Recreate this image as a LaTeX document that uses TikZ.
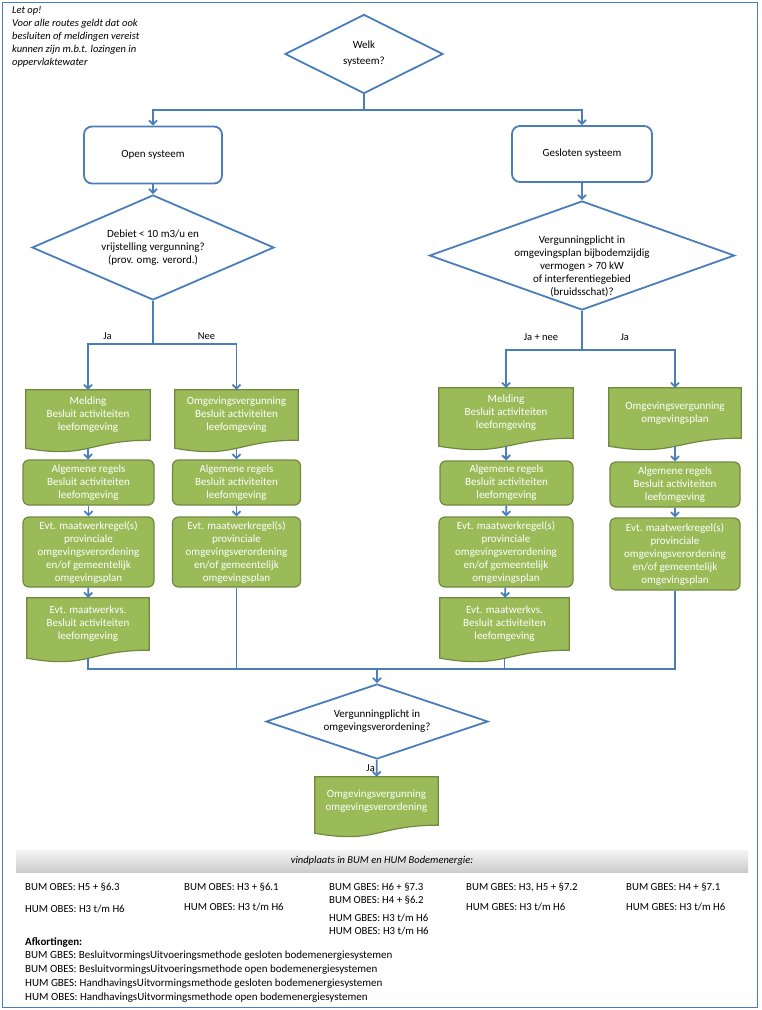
\documentclass[tikz,border=0pt]{standalone}
\usepackage{fontspec}
\setmainfont{Carlito}
\usetikzlibrary{shapes.geometric,arrows.meta,backgrounds}
\definecolor{flowblue}{HTML}{4A7EBB}
\definecolor{flowgreen}{HTML}{9BBB59}
\definecolor{flowgreenline}{HTML}{71893F}
\newcommand{\docshape}[1]{%
    \begin{pgfonlayer}{background}
        \filldraw [fill=flowgreen, draw=flowgreenline, line width=1.2pt]
            (#1.north west) -- (#1.north east) -- (#1.south east)
            .. controls (#1.south) and ([yshift=-19pt]#1.south) .. ([yshift=-8pt]#1.south west) -- cycle;
    \end{pgfonlayer}
    \coordinate (#1-b) at ([yshift=-8pt]#1.south);}

\begin{document}
\begin{tikzpicture}[x=1pt, y=-1pt,
    every node/.style={font=\fontsize{11}{13}\selectfont},
    line/.style={draw=flowblue, line width=1.8pt},
    arr/.style={line, -{Straight Barb[length=4pt,width=8pt]}},
    decision/.style={diamond, aspect=2.8, draw=flowblue, line width=1.8pt, fill=white, align=center, inner sep=-24pt},
    sysbox/.style={rectangle, rounded corners=8pt, draw=flowblue, line width=1.8pt, fill=white},
    greenbox/.style={rectangle, rounded corners=6pt, draw=flowgreenline, fill=flowgreen, line width=1.2pt, text=white, align=center, inner sep=2pt},
    docbox/.style={rectangle, text=white, align=center, inner sep=0pt},
    lbl/.style={font=\fontsize{10.5}{12}\selectfont},
    tbl/.style={anchor=west, inner sep=0pt, font=\fontsize{10.8}{12}\selectfont},
    note/.style={anchor=north west, align=left, inner sep=0pt, font=\itshape\fontsize{10.5}{13}\selectfont}]
    \useasboundingbox (0,0) rectangle (761,1010);
    \begin{pgfonlayer}{background}
        \fill [white] (0,0) rectangle (761,1010);
    \end{pgfonlayer}
    \draw [flowblue, line width=1pt] (2.5,2.5) rectangle (757.5,1007);
    \node [note] (letop) at (12,6) {Let op!\\Voor alle routes geldt dat ook\\besluiten of meldingen vereist\\kunnen zijn m.b.t. lozingen in\\oppervlaktewater};

    \node [decision, minimum width=158pt, minimum height=79pt, font=\fontsize{11}{16}\selectfont] (welk) at (364,54) {Welk\\systeem?};
    \node [sysbox, minimum width=138pt, minimum height=57pt] (open) at (153,155) {Open systeem};
    \node [sysbox, minimum width=140pt, minimum height=56pt] (gesl) at (582,154) {Gesloten systeem};
    \node [decision, minimum width=242pt, minimum height=105pt] (dopen) at (153,247.5) {Debiet < 10 m3/u en\\vrijstelling vergunning?\\(prov. omg. verord.)};
    \node [decision, minimum width=305pt, minimum height=109pt] (dgesl) at (582,255.5) {\mbox{}\\[16pt]Vergunningplicht in\\omgevingsplan bijbodemzijdig\\vermogen > 70 kW\\of interferentiegebied\\(bruidsschat)?};

    \node [docbox, minimum width=124pt, minimum height=50pt] (lmeld) at (88,415) {Melding\\Besluit activiteiten\\leefomgeving};
    \docshape{lmeld}
    \node [greenbox, minimum width=131pt, minimum height=45pt] (lalg) at (88.5,482.5) {Algemene regels\\Besluit activiteiten\\leefomgeving};
    \node [greenbox, minimum width=131pt, minimum height=70pt] (lmaat) at (88.5,552) {Evt. maatwerkregel(s)\\provinciale\\omgevingsverordening\\en/of gemeentelijk\\omgevingsplan};
    \node [docbox, minimum width=122pt, minimum height=52pt] (lvs) at (88,624) {Evt. maatwerkvs.\\Besluit activiteiten\\leefomgeving};
    \docshape{lvs}

    \node [docbox, minimum width=123pt, minimum height=50pt] (nomg) at (236.5,415) {Omgevingsvergunning\\Besluit activiteiten\\leefomgeving};
    \docshape{nomg}
    \node [greenbox, minimum width=128pt, minimum height=45pt] (nalg) at (236.5,482.5) {Algemene regels\\Besluit activiteiten\\leefomgeving};
    \node [greenbox, minimum width=128pt, minimum height=70pt] (nmaat) at (236.5,552) {Evt. maatwerkregel(s)\\provinciale\\omgevingsverordening\\en/of gemeentelijk\\omgevingsplan};

    \node [docbox, minimum width=134pt, minimum height=50pt] (rmeld) at (506,413) {Melding\\Besluit activiteiten\\leefomgeving};
    \docshape{rmeld}
    \node [greenbox, minimum width=133pt, minimum height=44pt] (ralg) at (506.5,483) {Algemene regels\\Besluit activiteiten\\leefomgeving};
    \node [greenbox, minimum width=134pt, minimum height=70pt] (rmaat) at (506,552) {Evt. maatwerkregel(s)\\provinciale\\omgevingsverordening\\en/of gemeentelijk\\omgevingsplan};
    \node [docbox, minimum width=129pt, minimum height=52pt] (rvs) at (504.5,624) {Evt. maatwerkvs.\\Besluit activiteiten\\leefomgeving};
    \docshape{rvs}

    \node [docbox, minimum width=132pt, minimum height=50pt] (romg) at (675,413) {Omgevingsvergunning\\omgevingsplan};
    \docshape{romg}
    \node [greenbox, minimum width=130pt, minimum height=45pt] (ralgb) at (675,484.5) {Algemene regels\\Besluit activiteiten\\leefomgeving};
    \node [greenbox, minimum width=130pt, minimum height=72pt] (rmaatb) at (675,554) {Evt. maatwerkregel(s)\\provinciale\\omgevingsverordening\\en/of gemeentelijk\\omgevingsplan};

    \node [decision, minimum width=222pt, minimum height=75pt] (dver) at (377,721.5) {Vergunningplicht in\\omgevingsverordening?};
    \node [docbox, minimum width=123pt, minimum height=48pt] (vomg) at (376.5,801) {Omgevingsvergunning\\omgevingsverordening};
    \docshape{vomg}

    \coordinate (topsplit) at (364,110);
    \coordinate (opensplit) at (153,344);
    \coordinate (geslsplit) at (582,350);
    \coordinate (join) at (377,669);
    \draw [line] (welk) -- (topsplit);
    \draw [arr] (topsplit) -| (open);
    \draw [arr] (topsplit) -| (gesl);
    \draw [arr] (open) -- (dopen);
    \draw [arr] (gesl) -- (dgesl);
    \draw [line] (dopen) -- (opensplit);
    \draw [arr] (opensplit) -| node [lbl, pos=0.35, above] {Ja} (lmeld);
    \draw [arr] (opensplit) -| node [lbl, pos=0.32, above] {Nee} (nomg);
    \draw [line] (dgesl) -- (geslsplit);
    \draw [arr] (geslsplit) -| node [lbl, pos=0.27, above, yshift=5pt] {Ja + nee} (rmeld);
    \draw [arr] (geslsplit) -| node [lbl, pos=0.23, above, yshift=5pt] {Ja} (romg);

    \draw [arr] (lmeld-b) -- (lalg);
    \draw [arr] (lalg) -- (lmaat);
    \draw [arr] (lmaat) -- (lvs);
    \draw [arr] (nomg-b) -- (nalg);
    \draw [arr] (nalg) -- (nmaat);
    \draw [arr] (rmeld-b) -- (ralg);
    \draw [arr] (ralg) -- (rmaat);
    \draw [arr] (rmaat) -- (rvs);
    \draw [arr] (romg-b) -- (ralgb);
    \draw [arr] (ralgb) -- (rmaatb);

    \draw [line] (lvs-b) |- (join);
    \draw [line] (nmaat) |- (join);
    \draw [line] (rvs-b) |- (join);
    \draw [line] (rmaatb) |- (join);
    \draw [arr] (join) -- (dver);
    \draw [arr] (dver) -- node [lbl, left, inner sep=1pt] {Ja} (vomg);

    \node [top color=gray!8, bottom color=gray!40, minimum width=732pt, minimum height=22pt, font=\itshape\fontsize{10.5}{12}\selectfont] (vind) at (382,861) {vindplaats in BUM en HUM Bodemenergie:};
    \node [tbl] (bumo1) at (25,887) {BUM OBES: H5 + §6.3};
    \node [tbl] (humo1) at (25,909) {HUM OBES: H3 t/m H6};
    \node [tbl] (bumo2) at (184,887) {BUM OBES: H3 + §6.1};
    \node [tbl] (humo2) at (184,907) {HUM OBES: H3 t/m H6};
    \node [tbl] (bumg3) at (329,887) {BUM GBES: H6 + §7.3};
    \node [tbl] (bumo3) at (329,900) {BUM OBES: H4 + §6.2};
    \node [tbl] (humg3) at (329,918) {HUM GBES: H3 t/m H6};
    \node [tbl] (humo3) at (329,931) {HUM OBES: H3 t/m H6};
    \node [tbl] (bumg4) at (466,887) {BUM GBES: H3, H5 + §7.2};
    \node [tbl] (humg4) at (466,907) {HUM GBES: H3 t/m H6};
    \node [tbl] (bumg5) at (626,887) {BUM GBES: H4 + §7.1};
    \node [tbl] (humg5) at (626,907) {HUM GBES: H3 t/m H6};
    \node [tbl, anchor=north west, align=left, font=\fontsize{11}{13.75}\selectfont] (afk) at (25,937) {\textbf{Afkortingen:}\\BUM GBES: BesluitvormingsUitvoeringsmethode gesloten bodemenergiesystemen\\BUM OBES: BesluitvormingsUitvoeringsmethode open bodemenergiesystemen\\HUM GBES: HandhavingsUitvormingsmethode gesloten bodemenergiesystemen\\HUM OBES: HandhavingsUitvormingsmethode open bodemenergiesystemen};
\end{tikzpicture}
\end{document}
